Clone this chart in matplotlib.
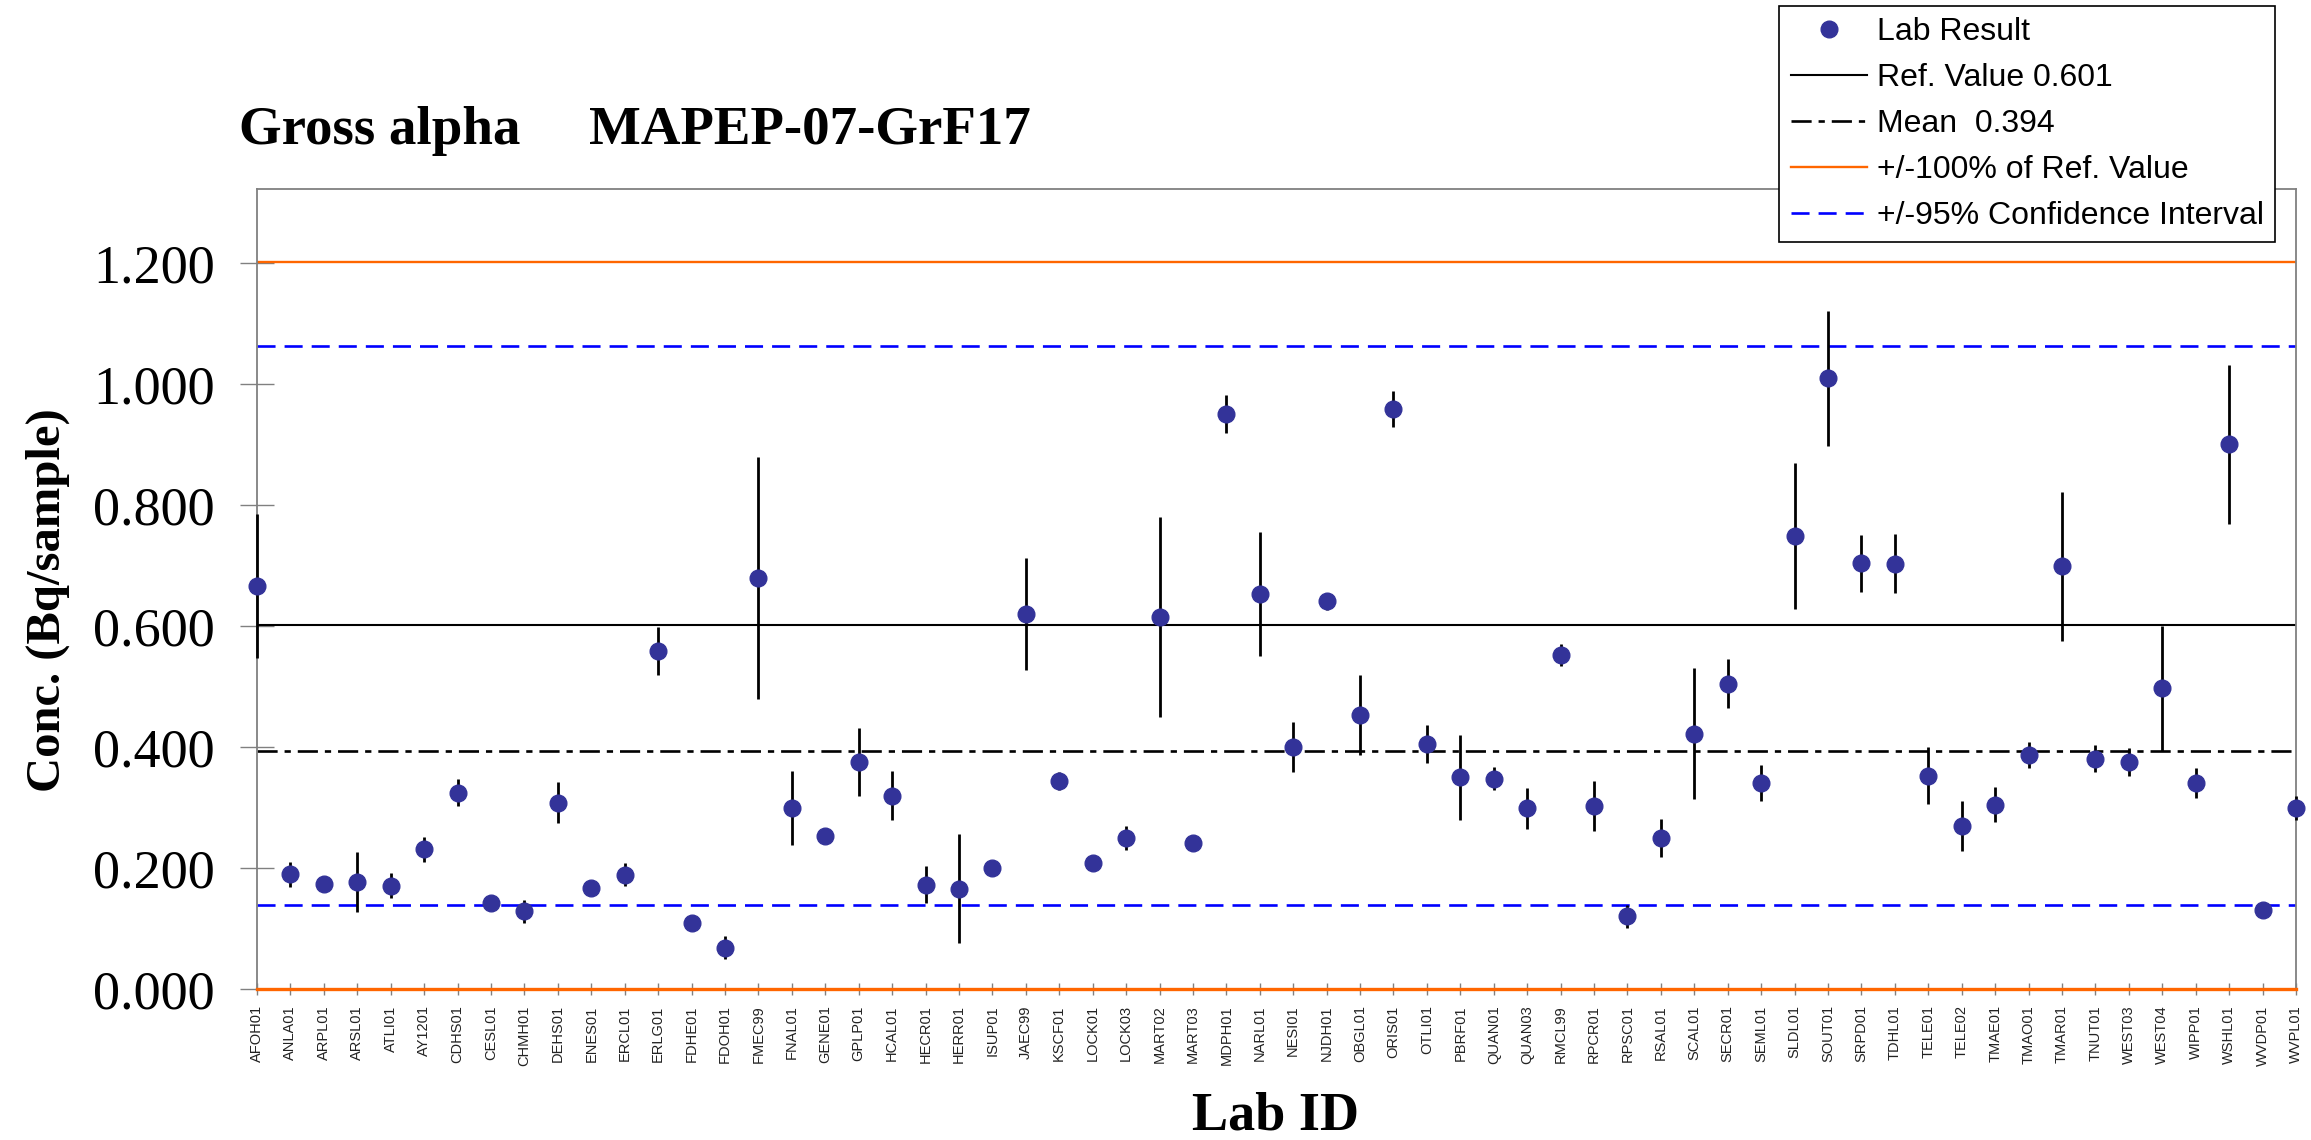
import numpy as np
import matplotlib
matplotlib.use("Agg")
import matplotlib.pyplot as plt
from matplotlib.ticker import FormatStrFormatter

plt.rcParams['lines.scale_dashes'] = False

# ---------------- data ----------------
lab_ids = ["AFOH01", "ANLA01", "ARPL01", "ARSL01", "ATLI01", "AY1201", "CDHS01", "CESL01",
           "CHMH01", "DEHS01", "ENES01", "ERCL01", "ERLG01", "FDHE01", "FDOH01", "FMEC99",
           "FNAL01", "GENE01", "GPLP01", "HCAL01", "HECR01", "HERR01", "ISUP01", "JAEC99",
           "KSCF01", "LOCK01", "LOCK03", "MART02", "MART03", "MDPH01", "NARL01", "NESI01",
           "NJDH01", "OBGL01", "ORIS01", "OTLI01", "PBRF01", "QUAN01", "QUAN03", "RMCL99",
           "RPCR01", "RPSC01", "RSAL01", "SCAL01", "SECR01", "SEML01", "SLDL01", "SOUT01",
           "SRPD01", "TDHL01", "TELE01", "TELE02", "TMAE01", "TMAO01", "TMAR01", "TNUT01",
           "WEST03", "WEST04", "WIPP01", "WSHL01", "WVDP01", "WVPL01"]

lab_results = [0.666, 0.190, 0.174, 0.177, 0.171, 0.231, 0.325, 0.142, 0.129, 0.308,
               0.168, 0.189, 0.559, 0.110, 0.069, 0.679, 0.300, 0.254, 0.376, 0.320,
               0.173, 0.166, 0.200, 0.620, 0.344, 0.209, 0.250, 0.615, 0.241, 0.950,
               0.653, 0.400, 0.641, 0.453, 0.959, 0.405, 0.350, 0.348, 0.299, 0.552,
               0.303, 0.121, 0.250, 0.422, 0.505, 0.341, 0.749, 1.009, 0.704, 0.703,
               0.353, 0.270, 0.305, 0.387, 0.699, 0.381, 0.376, 0.497, 0.341, 0.900,
               0.131, 0.300]

uncertainties = [0.119, 0.021, 0.000, 0.050, 0.021, 0.020, 0.023, 0.000, 0.019, 0.034,
                 0.000, 0.019, 0.040, 0.000, 0.019, 0.200, 0.061, 0.000, 0.056, 0.040,
                 0.031, 0.090, 0.000, 0.092, 0.015, 0.000, 0.020, 0.166, 0.000, 0.031,
                 0.103, 0.041, 0.014, 0.066, 0.030, 0.031, 0.070, 0.019, 0.034, 0.018,
                 0.041, 0.019, 0.031, 0.108, 0.040, 0.030, 0.121, 0.111, 0.047, 0.049,
                 0.047, 0.041, 0.029, 0.022, 0.123, 0.022, 0.023, 0.103, 0.025, 0.131,
                 0.000, 0.020]

ref_value = 0.601
mean_value = 0.394
ci_half = 0.461
y_ticks = [0.0, 0.2, 0.4, 0.6, 0.8, 1.0, 1.2]

title_text = "Gross alpha     MAPEP-07-GrF17"
ylabel_text = "Conc. (Bq/sample)"
xlabel_text = "Lab ID"

# ---------------- figure ----------------
W, H = 2311, 1140
fig = plt.figure(figsize=(W / 100, H / 100), dpi=100)
ax = fig.add_axes([257 / W, 1 - 989.3 / H, (2296 - 257) / W, (989.3 - 189) / H])

SERIF = ['Liberation Serif', 'DejaVu Serif']
SANS = ['Liberation Sans', 'DejaVu Sans']

x = np.arange(len(lab_ids))
vals = np.array(lab_results)
unc = np.array(uncertainties)

orange = '#FF6600'
blue = '#0000FF'
indigo = '#333399'

ax.axhline(ref_value, color='black', lw=1.5, zorder=2, label='Ref. Value 0.601')
ax.axhline(mean_value, color='black', lw=1.9, dashes=(14.5, 5, 4.5, 5), zorder=2,
           label='Mean  0.394')
ax.axhline(ref_value * 2, color=orange, lw=1.7, zorder=2, label='+/-100% of Ref. Value')
ax.axhline(0.0, color=orange, lw=2.4, zorder=5, clip_on=False)
ax.axhline(ref_value + ci_half, color=blue, lw=1.9, dashes=(13, 6.5), zorder=2,
           label='+/-95% Confidence Interval')
ax.axhline(ref_value - ci_half, color=blue, lw=1.9, dashes=(13, 6.5), zorder=2)

ax.vlines(x, vals - unc, vals + unc, color='black', lw=2.0, zorder=3, clip_on=False)
ax.plot(x, vals, 'o', color=indigo, mec=indigo, ms=12, zorder=4, clip_on=False,
        label='Lab Result', linestyle='none')

ax.set_xlim(0, len(lab_ids) - 1)
ax.set_ylim(0, 1.322)
ax.set_yticks(y_ticks)
ax.yaxis.set_major_formatter(FormatStrFormatter('%.3f'))
ax.set_xticks(x)
ax.set_xticklabels(lab_ids, rotation=90, family=SANS, fontsize=10.5, color='#222222')
for t in ax.get_yticklabels():
    t.set_family(SERIF)
ax.tick_params(axis='y', direction='inout', length=24.5, width=1.0, color='#808080',
               pad=18.0, labelsize=39)
ax.tick_params(axis='x', direction='inout', length=8, width=1.0, color='#808080', pad=7.5)

for s in ax.spines.values():
    s.set_color('#808080')
    s.set_linewidth(1.3)

# text
fig.text(239 / W, 1 - 144 / H, title_text, family=SERIF, fontweight='bold', fontsize=39.5,
         ha='left', va='baseline')
fig.text(48 / W, 1 - 600 / H, ylabel_text, family=SERIF, fontweight='bold', fontsize=35,
         rotation=90, ha='center', va='center')
fig.text(1276 / W, 1 - 1129 / H, xlabel_text, family=SERIF, fontweight='bold', fontsize=39,
         ha='center', va='baseline')

# legend
handles, labels = ax.get_legend_handles_labels()
order = ['Lab Result', 'Ref. Value 0.601', 'Mean  0.394', '+/-100% of Ref. Value',
         '+/-95% Confidence Interval']
hmap = dict(zip(labels, handles))
leg = fig.legend([hmap[k] for k in order], order, loc='upper right',
                 bbox_to_anchor=(2275 / W, 1 - 6 / H), bbox_transform=fig.transFigure,
                 borderaxespad=0, prop={'family': SANS, 'size': 23}, numpoints=1,
                 frameon=True, fancybox=False, framealpha=1, edgecolor='black',
                 borderpad=0.35, labelspacing=0.5, handlelength=2.4, handletextpad=0.3)
leg.get_frame().set_linewidth(1.2)
leg.set_zorder(10)

fig.savefig('out.png', dpi=100, facecolor='white')
